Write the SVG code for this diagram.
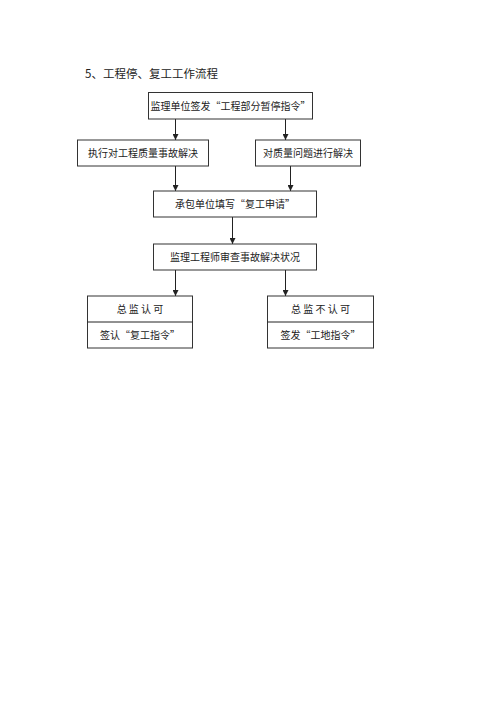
<svg xmlns="http://www.w3.org/2000/svg" width="500" height="707" viewBox="0 0 500 707">
<style>
.bg{fill:#ffffff}
.box{fill:#ffffff;stroke:#333333;stroke-width:1}
.t{font-family:"Noto Sans CJK SC","Noto Sans CJK JP",sans-serif;font-size:10px;fill:#222222;text-anchor:middle}
.title{font-family:"Noto Sans CJK SC","Noto Sans CJK JP",sans-serif;font-size:11.5px;fill:#222222}
.ln{stroke:#222222;stroke-width:1;fill:none}
</style>
<defs>
<marker id="ah" viewBox="0 0 6 6" refX="6" refY="3" markerWidth="6" markerHeight="6" orient="auto" markerUnits="userSpaceOnUse">
<path d="M0,0 L6,3 L0,6 Z" fill="#222222"/>
</marker>
</defs>
<rect class="bg" x="0" y="0" width="500" height="707"/>
<text class="title" x="85" y="78">5、工程停、复工工作流程</text>
<g id="connectors">
<line class="ln" x1="175.5" y1="119" x2="175.5" y2="140" marker-end="url(#ah)"/>
<line class="ln" x1="285.5" y1="119" x2="285.5" y2="140" marker-end="url(#ah)"/>
<line class="ln" x1="175.5" y1="166" x2="175.5" y2="191" marker-end="url(#ah)"/>
<line class="ln" x1="290.5" y1="166" x2="290.5" y2="191" marker-end="url(#ah)"/>
<line class="ln" x1="232.5" y1="217" x2="232.5" y2="244" marker-end="url(#ah)"/>
<line class="ln" x1="175.5" y1="270" x2="175.5" y2="296" marker-end="url(#ah)"/>
<line class="ln" x1="285.5" y1="270" x2="285.5" y2="296" marker-end="url(#ah)"/>
</g>
<g id="n1">
<rect class="box" x="148.5" y="92.5" width="164" height="26.5"/>
<text class="t" x="230.5" y="109.5">监理单位签发“工程部分暂停指令”</text>
</g>
<g id="n2">
<rect class="box" x="77.5" y="140" width="131" height="26"/>
<text class="t" x="143" y="156.5">执行对工程质量事故解决</text>
</g>
<g id="n3">
<rect class="box" x="255.5" y="140" width="105" height="26"/>
<text class="t" x="308" y="156.5">对质量问题进行解决</text>
</g>
<g id="n4">
<rect class="box" x="153.5" y="191" width="163" height="26"/>
<text class="t" x="235" y="207.5">承包单位填写“复工申请”</text>
</g>
<g id="n5">
<rect class="box" x="153.5" y="244" width="163" height="26"/>
<text class="t" x="235" y="260.5">监理工程师审查事故解决状况</text>
</g>
<g id="n6">
<rect class="box" x="87.5" y="296" width="105" height="52"/>
<line class="ln" x1="87.5" y1="322" x2="192.5" y2="322"/>
<text class="t" x="140" y="313" xml:space="preserve">总 监 认 可</text>
<text class="t" x="140" y="339">签认“复工指令”</text>
</g>
<g id="n7">
<rect class="box" x="267.5" y="296" width="106" height="52"/>
<line class="ln" x1="267.5" y1="322" x2="373.5" y2="322"/>
<text class="t" x="320.5" y="313" xml:space="preserve">总 监 不 认 可</text>
<text class="t" x="320.5" y="339">签发“工地指令”</text>
</g>
</svg>
